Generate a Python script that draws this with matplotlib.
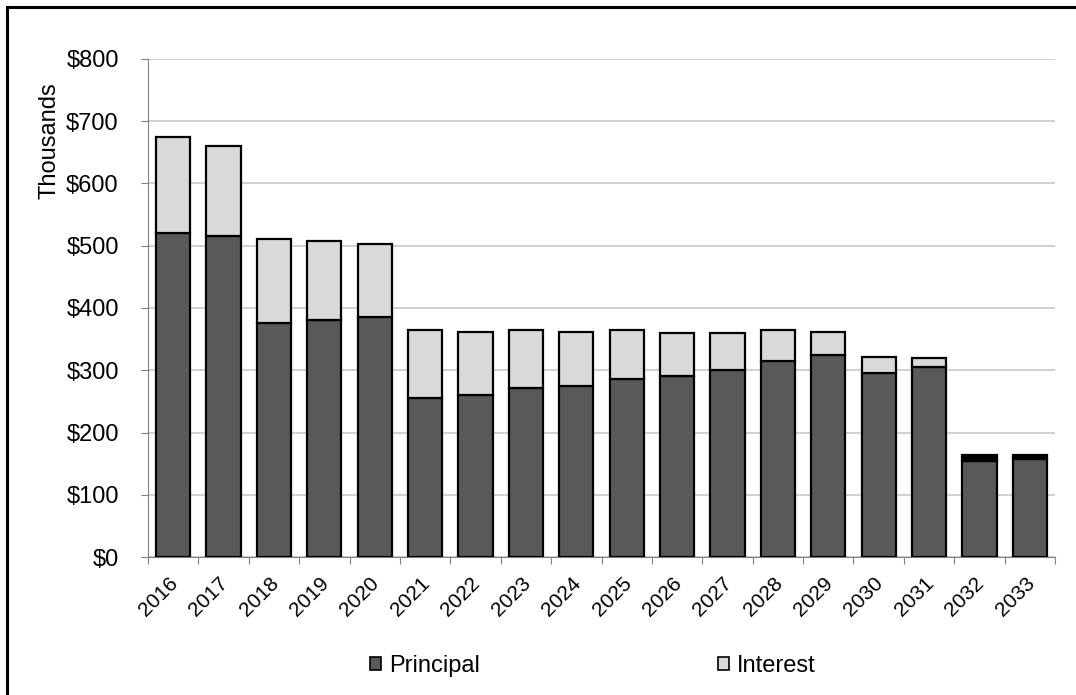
import matplotlib.pyplot as plt
import matplotlib.transforms as mtransforms
import numpy as np
from matplotlib.patches import Rectangle
from matplotlib.ticker import FuncFormatter, MultipleLocator

plt.rcParams['font.family'] = ['Liberation Sans', 'DejaVu Sans']

years = [str(y) for y in range(2016, 2034)]
principal = [521, 515, 376, 380, 385, 256, 260, 271, 275, 286, 290, 301, 315, 325, 295, 305, 155, 158]
interest = [154, 145, 135, 127, 118, 108, 102, 94, 87, 78, 70, 59, 49, 37, 26, 15, 9, 6]

principal_color = '#595959'
interest_color = '#d9d9d9'
# the last two interest slivers are drawn solid black
interest_colors = [interest_color] * 16 + ['#000000'] * 2

W, H = 1076, 695
fig = plt.figure(figsize=(W / 100, H / 100), dpi=100)
ax = fig.add_axes([148 / W, 1 - 557 / H, (1055 - 148) / W, (557 - 59) / H])

x = np.arange(len(years))
ax.bar(x, principal, width=0.68, color=principal_color, edgecolor='black', linewidth=1.6,
       label='Principal', zorder=3)
ax.bar(x, interest, bottom=principal, width=0.68, color=interest_colors, edgecolor='black',
       linewidth=1.6, zorder=3)

ax.set_xlim(-0.5, len(years) - 0.5)
ax.set_ylim(0, 800)
ax.yaxis.set_major_locator(MultipleLocator(100))
ax.yaxis.set_major_formatter(FuncFormatter(lambda v, p: f'${v:,.0f}'))
ax.grid(axis='y', color='#c8c8c8', linewidth=1.2, zorder=0)

# category ticks sit between the bars
ax.set_xticks(np.arange(len(years) + 1) - 0.5)
ax.set_xticklabels([])
ax.set_xticks(x, minor=True)
ax.set_xticklabels(years, minor=True, rotation=45, ha='right', va='top',
                   rotation_mode='anchor', fontsize=15)
ax.tick_params(axis='x', which='minor', length=0, pad=12)
ax.tick_params(axis='x', which='major', length=5, color='#808080', direction='out')
ax.tick_params(axis='y', length=5, color='#808080', labelsize=17, pad=16)

# nudge the slanted year labels a little to the left
shift = mtransforms.ScaledTranslation(-5 / 100, 0, fig.dpi_scale_trans)
for lbl in ax.get_xticklabels(minor=True):
    lbl.set_transform(lbl.get_transform() + shift)

for side in ['top', 'right']:
    ax.spines[side].set_visible(False)
ax.spines['left'].set_color('#808080')
ax.spines['bottom'].set_color('#808080')

fig.text(50 / W, 1 - 141 / H, 'Thousands', rotation=90, ha='center', va='center', fontsize=17)

handles = [Rectangle((0, 0), 1, 1, facecolor=principal_color, edgecolor='black', linewidth=1.2),
           Rectangle((0, 0), 1, 1, facecolor=interest_color, edgecolor='black', linewidth=1.2)]
fig.legend(handles, ['Principal', 'Interest'], loc='center', bbox_to_anchor=(593 / W, 1 - 666 / H),
           ncol=2, frameon=False, fontsize=17, handlelength=0.45, handleheight=0.45,
           handletextpad=0.35, columnspacing=10.1)

# outer chart border
fig.patches.append(Rectangle((7 / W, -0.05), 1.1, 1 - 7 / H + 0.05, transform=fig.transFigure,
                             fill=False, edgecolor='black', linewidth=2.2))

fig.savefig('out.png', dpi=100)
